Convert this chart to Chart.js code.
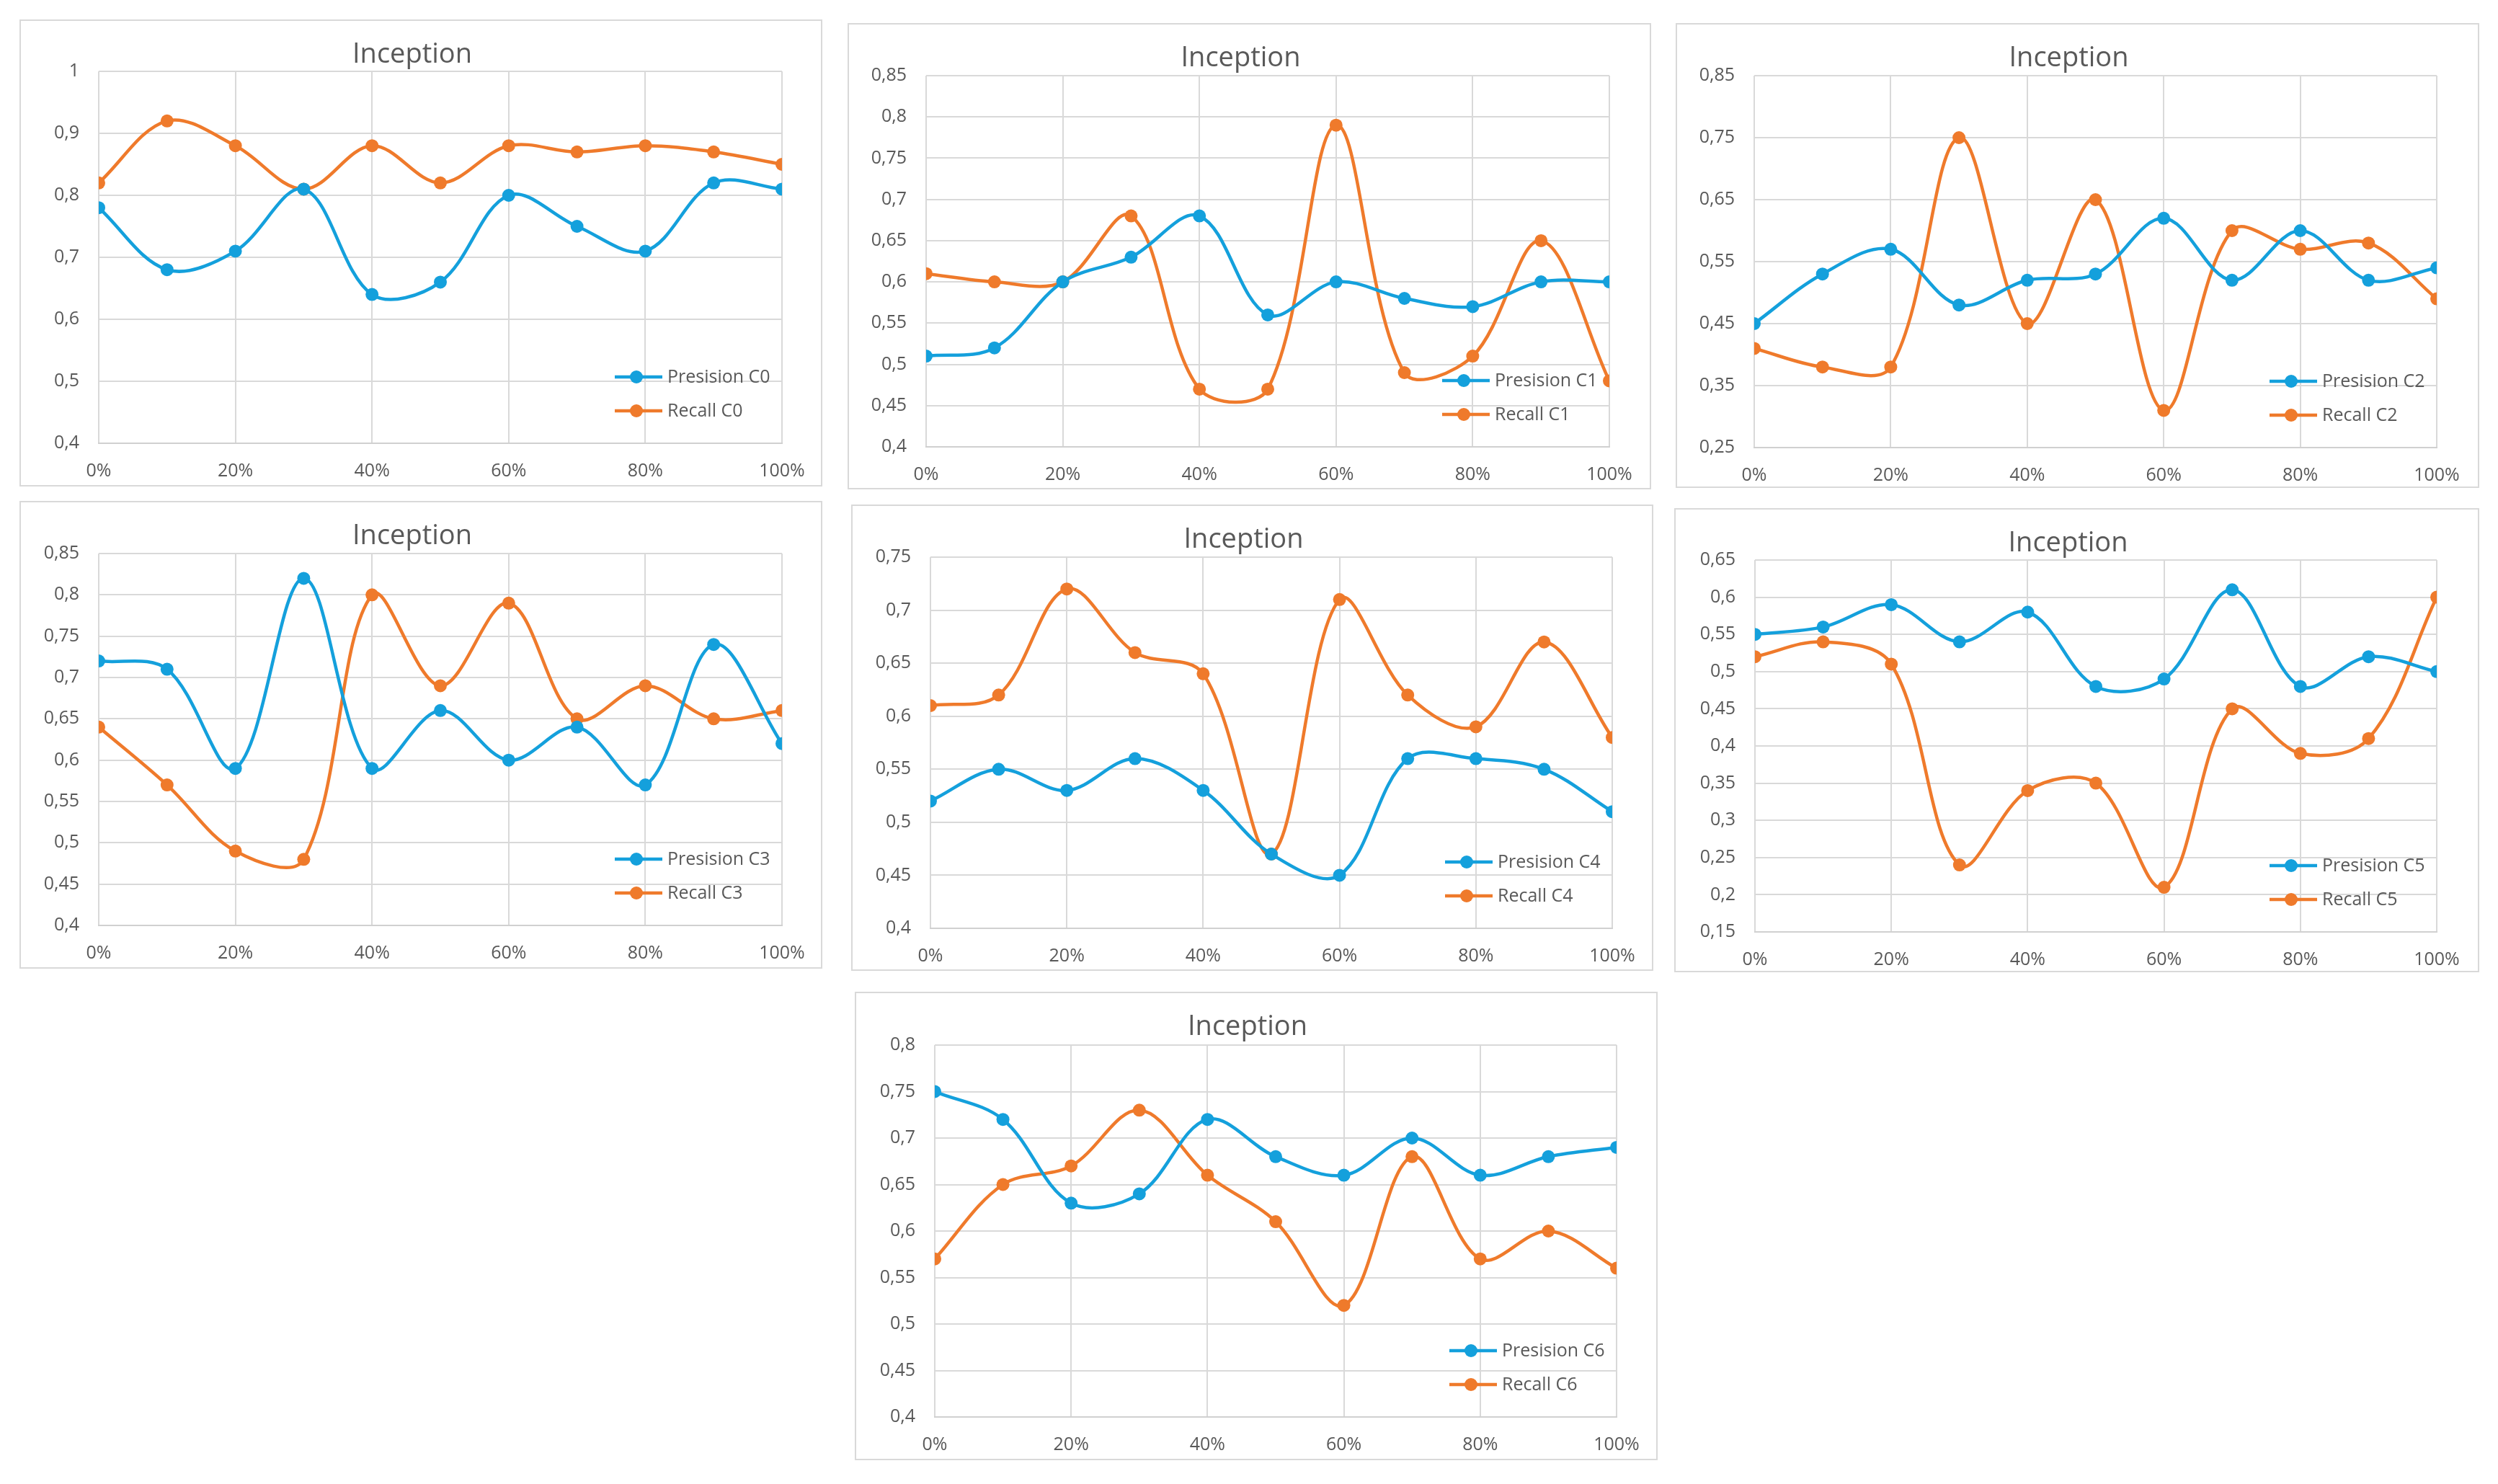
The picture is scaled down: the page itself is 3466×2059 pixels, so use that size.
<!DOCTYPE html>
<html><head><meta charset="utf-8">
<script src="https://cdn.jsdelivr.net/npm/chart.js@4.4.1/dist/chart.umd.min.js"></script>
<style>
html,body{margin:0;padding:0;background:#fff;}
body{width:3466px;height:2059px;position:relative;overflow:hidden;}
.panel{position:absolute;}
.panel canvas{position:absolute;left:0;top:0;}
.frame{position:absolute;left:0;top:0;right:0;bottom:0;border:2px solid #d9d9d9;box-sizing:border-box;pointer-events:none;}
</style></head><body>
<script>
// ---------- data ----------
const xPercent = [0, 10, 20, 30, 40, 50, 60, 70, 80, 90, 100];
const classNames = ['C0', 'C1', 'C2', 'C3', 'C4', 'C5', 'C6'];
const chartTitle = 'Inception';
const precisionLabel = 'Presision';
const recallLabel = 'Recall';

const precisionC0 = [0.78, 0.68, 0.71, 0.81, 0.64, 0.66, 0.80, 0.75, 0.71, 0.82, 0.81];
const recallC0    = [0.82, 0.92, 0.88, 0.81, 0.88, 0.82, 0.88, 0.87, 0.88, 0.87, 0.85];
const precisionC1 = [0.51, 0.52, 0.60, 0.63, 0.68, 0.56, 0.60, 0.58, 0.57, 0.60, 0.60];
const recallC1    = [0.61, 0.60, 0.60, 0.68, 0.47, 0.47, 0.79, 0.49, 0.51, 0.65, 0.48];
const precisionC2 = [0.45, 0.53, 0.57, 0.48, 0.52, 0.53, 0.62, 0.52, 0.60, 0.52, 0.54];
const recallC2    = [0.41, 0.38, 0.38, 0.75, 0.45, 0.65, 0.31, 0.60, 0.57, 0.58, 0.49];
const precisionC3 = [0.72, 0.71, 0.59, 0.82, 0.59, 0.66, 0.60, 0.64, 0.57, 0.74, 0.62];
const recallC3    = [0.64, 0.57, 0.49, 0.48, 0.80, 0.69, 0.79, 0.65, 0.69, 0.65, 0.66];
const precisionC4 = [0.52, 0.55, 0.53, 0.56, 0.53, 0.47, 0.45, 0.56, 0.56, 0.55, 0.51];
const recallC4    = [0.61, 0.62, 0.72, 0.66, 0.64, 0.47, 0.71, 0.62, 0.59, 0.67, 0.58];
const precisionC5 = [0.55, 0.56, 0.59, 0.54, 0.58, 0.48, 0.49, 0.61, 0.48, 0.52, 0.50];
const recallC5    = [0.52, 0.54, 0.51, 0.24, 0.34, 0.35, 0.21, 0.45, 0.39, 0.41, 0.60];
const precisionC6 = [0.75, 0.72, 0.63, 0.64, 0.72, 0.68, 0.66, 0.70, 0.66, 0.68, 0.69];
const recallC6    = [0.57, 0.65, 0.67, 0.73, 0.66, 0.61, 0.52, 0.68, 0.57, 0.60, 0.56];

const precisionSeries = [precisionC0, precisionC1, precisionC2, precisionC3, precisionC4, precisionC5, precisionC6];
const recallSeries    = [recallC0, recallC1, recallC2, recallC3, recallC4, recallC5, recallC6];

// y axis ranges (tick values)
const yMin  = [0.40, 0.40, 0.25, 0.40, 0.40, 0.15, 0.40];
const yMax  = [1.00, 0.85, 0.85, 0.85, 0.75, 0.65, 0.80];
const yStep = [0.10, 0.05, 0.10, 0.05, 0.05, 0.05, 0.05];
const xTickStep = 20;

// ---------- layout (positions, not data) ----------
// frame: [left, top, right, bottom]; plot area: [left, top, right, bottom]
const frames = [
  [27, 27, 1141, 675], [1176, 32, 2291, 679], [2325, 32, 3440, 677],
  [27, 695, 1141, 1344], [1181, 700, 2294, 1347], [2323, 705, 3440, 1349],
  [1186, 1376, 2300, 2026]
];
const plots = [
  [137, 99, 1085, 615], [1285, 105, 2233, 620], [2434, 105, 3381, 621],
  [137, 768, 1085, 1284], [1291, 773, 2237, 1288], [2435, 777, 3381, 1293],
  [1297, 1450, 2243, 1966]
];

const BLUE = '#14a0dc';
const ORANGE = '#ef7a2b';
const TEXT = '#595959';
const GRID = '#d9d9d9';
const FONT = "'Open Sans', 'Liberation Sans', sans-serif";

Chart.defaults.font.family = FONT;
Chart.defaults.color = TEXT;

function fmtComma(v) {
  return String(Math.round(v * 100) / 100).replace('.', ',');
}

const insideLegend = {
  id: 'insideLegend',
  afterDraw(chart) {
    const {ctx, chartArea} = chart;
    const rows = [92, 45];
    ctx.save();
    chart.data.datasets.forEach((ds, i) => {
      const y = chartArea.bottom - rows[i];
      const x0 = chartArea.right - 232;
      ctx.strokeStyle = ds.borderColor;
      ctx.lineWidth = 4.5;
      ctx.beginPath(); ctx.moveTo(x0, y); ctx.lineTo(x0 + 66, y); ctx.stroke();
      ctx.fillStyle = ds.borderColor;
      ctx.beginPath(); ctx.arc(x0 + 30, y, 9, 0, Math.PI * 2); ctx.fill();
      ctx.fillStyle = TEXT;
      ctx.font = "25px " + FONT;
      ctx.textBaseline = 'middle';
      ctx.textAlign = 'left';
      ctx.fillText(ds.label, x0 + 73, y + 1);
    });
    ctx.restore();
  }
};

const TITLE_SIZE = 38;
const TITLE_LH = 1.2;
const TITLE_RIGHT_PAD = 24;

classNames.forEach((cn, i) => {
  const [fl, ft, fr, fb] = frames[i];
  const [pl, pt, pr, pb] = plots[i];
  const w = fr - fl, h = fb - ft;
  const div = document.createElement('div');
  div.className = 'panel';
  div.style.left = fl + 'px'; div.style.top = ft + 'px';
  div.style.width = w + 'px'; div.style.height = h + 'px';
  const cv = document.createElement('canvas');
  cv.width = w; cv.height = h;
  cv.style.width = w + 'px'; cv.style.height = h + 'px';
  div.appendChild(cv);
  const fr2 = document.createElement('div'); fr2.className = 'frame';
  div.appendChild(fr2);
  document.body.appendChild(div);

  const yAxisW = pl - fl;
  const xAxisH = fb - pb;
  const rightGap = fr - pr;
  const topH = pt - ft;
  const titlePadTop = 49 - TITLE_SIZE * TITLE_LH / 2;
  const titlePadBottom = topH - titlePadTop - TITLE_SIZE * TITLE_LH;

  const mk = (arr) => xPercent.map((x, k) => ({x: x, y: arr[k]}));

  new Chart(cv, {
    type: 'line',
    data: {
      datasets: [
        {label: precisionLabel + ' ' + cn, data: mk(precisionSeries[i]), borderColor: BLUE, backgroundColor: BLUE,
         pointBackgroundColor: BLUE, pointBorderWidth: 0, pointRadius: 9, borderWidth: 4.5, tension: 0.35},
        {label: recallLabel + ' ' + cn, data: mk(recallSeries[i]), borderColor: ORANGE, backgroundColor: ORANGE,
         pointBackgroundColor: ORANGE, pointBorderWidth: 0, pointRadius: 9, borderWidth: 4.5, tension: 0.35}
      ]
    },
    options: {
      responsive: false,
      animation: false,
      devicePixelRatio: 1,
      layout: {padding: {left: 0, top: 0, right: TITLE_RIGHT_PAD, bottom: 0}},
      plugins: {
        legend: {display: false},
        tooltip: {enabled: false},
        title: {
          display: true, text: chartTitle, color: TEXT,
          font: {size: TITLE_SIZE, weight: 'normal', lineHeight: TITLE_LH},
          padding: {top: titlePadTop, bottom: titlePadBottom}
        }
      },
      scales: {
        x: {
          type: 'linear', min: 0, max: 100,
          ticks: {stepSize: xTickStep, callback: (v) => v + '%', font: {size: 25}, color: TEXT, padding: 24, maxRotation: 0},
          grid: {color: GRID, lineWidth: 2, drawTicks: false},
          border: {display: true, color: '#d0d0d0', width: 2},
          afterFit: (s) => { s.height = xAxisH; s.paddingRight = rightGap; }
        },
        y: {
          min: yMin[i], max: yMax[i],
          ticks: {stepSize: yStep[i], callback: (v) => fmtComma(v), font: {size: 25}, color: TEXT, padding: 27},
          grid: {color: GRID, lineWidth: 2, drawTicks: false},
          border: {display: false},
          afterFit: (s) => { s.width = yAxisW; }
        }
      }
    },
    plugins: [insideLegend]
  });
});
</script>
</body></html>
